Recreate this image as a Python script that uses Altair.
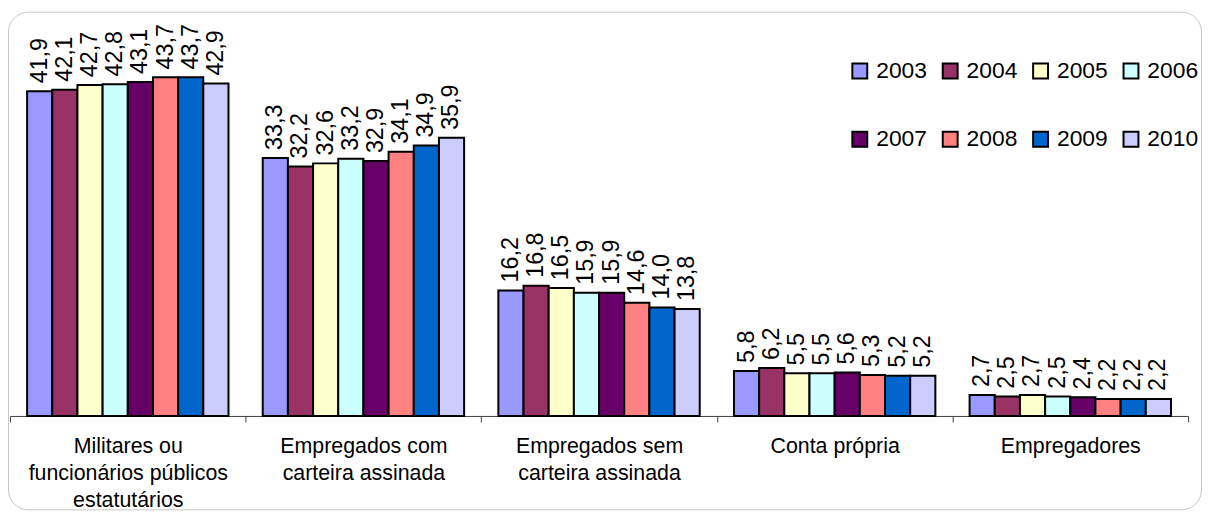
import altair as alt
import pandas as pd

categories = [
    "Militares ou\nfuncionários públicos\nestatutários",
    "Empregados com\ncarteira assinada",
    "Empregados sem\ncarteira assinada",
    "Conta própria",
    "Empregadores",
]
years = ["2003", "2004", "2005", "2006", "2007", "2008", "2009", "2010"]

militares = [41.9, 42.1, 42.7, 42.8, 43.1, 43.7, 43.7, 42.9]
com_carteira = [33.3, 32.2, 32.6, 33.2, 32.9, 34.1, 34.9, 35.9]
sem_carteira = [16.2, 16.8, 16.5, 15.9, 15.9, 14.6, 14.0, 13.8]
conta_propria = [5.8, 6.2, 5.5, 5.5, 5.6, 5.3, 5.2, 5.2]
empregadores = [2.7, 2.5, 2.7, 2.5, 2.4, 2.2, 2.2, 2.2]

colors = ["#9999FF", "#993366", "#FFFFCC", "#CCFFFF",
          "#660066", "#FF8080", "#0066CC", "#CCCCFF"]

series = [militares, com_carteira, sem_carteira, conta_propria, empregadores]
rows = []
for cat, vals in zip(categories, series):
    for yr, v in zip(years, vals):
        rows.append({"cat": cat, "year": yr, "v": v})
df = pd.DataFrame(rows)

FONT = "Liberation Sans"
W, H = 1186, 390

base = alt.Chart(df).encode(
    x=alt.X("cat:N", sort=categories,
            scale=alt.Scale(paddingInner=0, paddingOuter=0),
            axis=alt.Axis(title=None, labelAngle=0,
                          labelExpr="split(datum.label, '\\n')",
                          labelFont=FONT, labelFontSize=21.5, labelColor="#000000",
                          labelLineHeight=27, labelPadding=14, labelLimit=500,
                          tickBand="extent", tickSize=6, tickColor="#404040",
                          domainColor="#404040", domainWidth=1, grid=False)),
    xOffset=alt.XOffset("year:N", sort=years,
                        scale=alt.Scale(paddingInner=0, paddingOuter=0.68)),
    y=alt.Y("v:Q", scale=alt.Scale(domain=[0, 50], nice=False), axis=None),
)

bars = base.mark_bar(stroke="#000000", strokeWidth=2).encode(
    color=alt.Color("year:N", sort=years,
                    scale=alt.Scale(domain=years, range=colors),
                    legend=alt.Legend(title=None, orient="none",
                                      legendX=844, legendY=31, direction="horizontal",
                                      columns=4, symbolType="square", symbolSize=225,
                                      symbolStrokeColor="#000000", symbolStrokeWidth=2,
                                      symbolOpacity=1,
                                      labelFont=FONT, labelFontSize=23, labelColor="#000000",
                                      labelOffset=5, columnPadding=11, rowPadding=45,
                                      labelLimit=200, padding=0, offset=0))
)

labels = base.transform_calculate(
    lbl="replace(format(datum.v, '.1f'), '.', ',')"
).mark_text(angle=270, align="left", baseline="middle", dx=8,
            font=FONT, fontSize=23.5, color="#000000").encode(text="lbl:N")

frame = alt.Chart(pd.DataFrame({"a": [0]})).mark_rect(
    filled=False, stroke="#c8c8c8", strokeWidth=1, cornerRadius=20
).encode(x=alt.value(-1.5), x2=alt.value(1199.5), y=alt.value(-16.5), y2=alt.value(484.5))

chart = alt.layer(frame, bars, labels).properties(
    width=W, height=H,
    autosize=alt.AutoSizeParams(type="none"),
    padding={"left": 2, "top": 19, "right": 15, "bottom": 96},
    background="#ffffff",
).configure_view(strokeWidth=0)

chart.save("out.html", embed_options={"renderer": "svg", "actions": False})
